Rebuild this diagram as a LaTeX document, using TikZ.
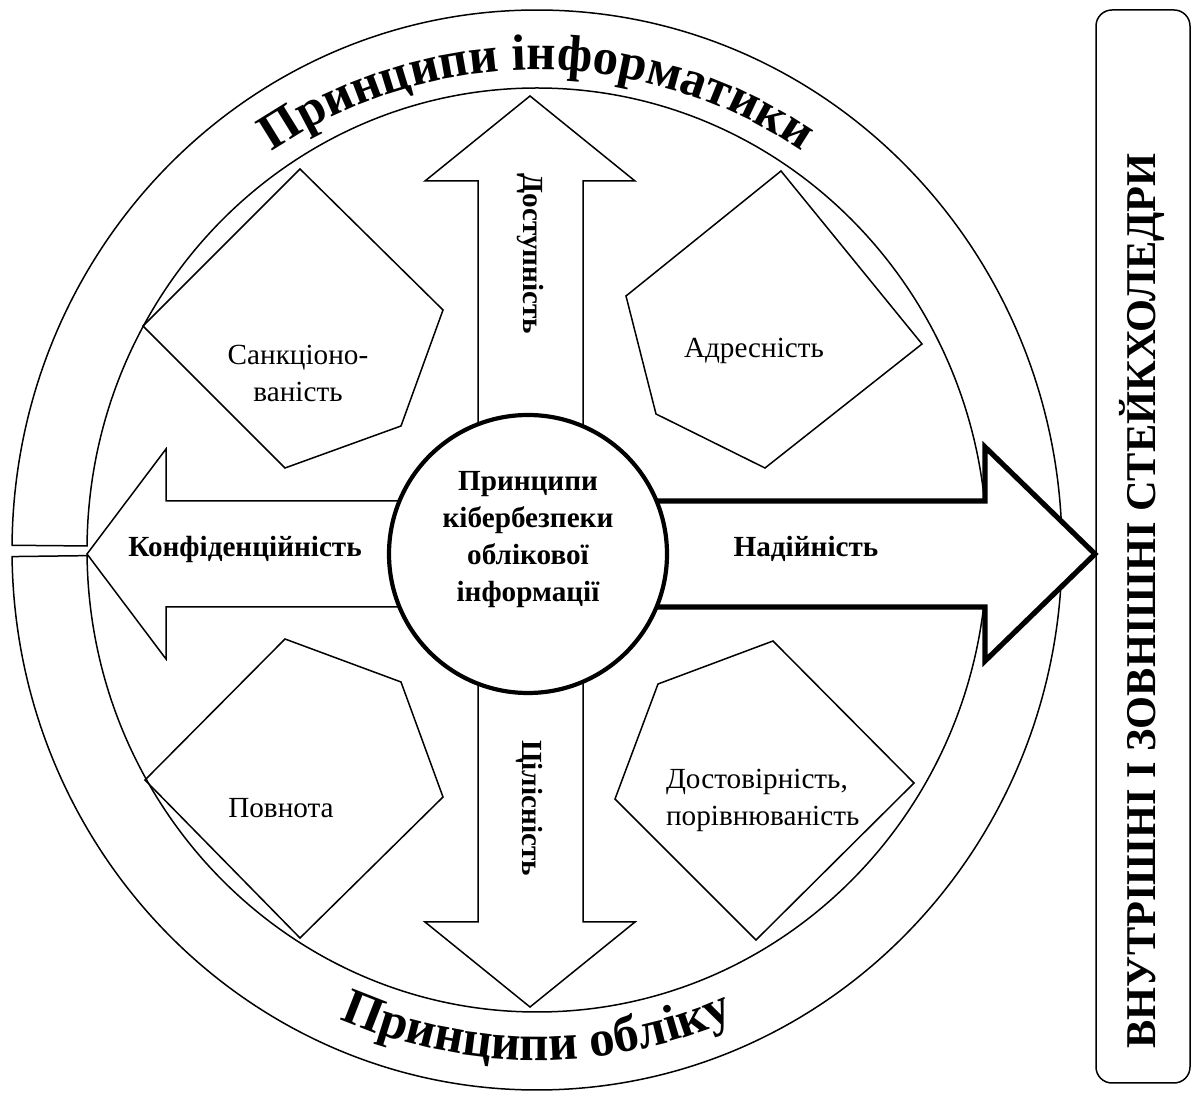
\documentclass[tikz,border=0pt]{standalone}
\usepackage{fontspec}
\setmainfont{Liberation Serif}
\usetikzlibrary{decorations.text}
\newcommand\bandfont{\fontsize{25.5}{30}\selectfont\bfseries}

\begin{document}
\begin{tikzpicture}[x=0.5pt, y=0.5pt,
    thin line/.style={draw, line width=0.75pt},
    band/.style={thin line, fill=white},
    pent/.style={thin line},
    flat arrow/.style={thin line, fill=white},
    label text/.style={font=\fontsize{14.6}{18.5}\selectfont, align=center},
    bold text/.style={font=\fontsize{14.6}{18.5}\selectfont\bfseries, align=center}]
    \useasboundingbox (0,0) rectangle (1195,1093);
    \coordinate (C) at (537,543);

    % Outer bands
    \draw[band] (C) ++(179.5:525 and 540) arc[start angle=179.5, end angle=0, x radius=525, y radius=540]
        -- ++(-75,0) arc[start angle=0, end angle=179.5, x radius=450, y radius=462] -- cycle;
    \draw[band] (C) ++(180.7:525 and 540) arc[start angle=180.7, end angle=360, x radius=525, y radius=540]
        -- ++(-75,0) arc[start angle=360, end angle=180.7, x radius=450, y radius=462] -- cycle;
    \path[decorate, decoration={text along path, text align=center, text={|\bandfont|Принципи інформатики}}]
        (C) ++(160:475 and 480) arc[start angle=160, end angle=20, x radius=475, y radius=480];
    \path[decorate, decoration={text along path, text align=center, text={|\bandfont|Принципи обліку}}]
        (C) ++(200:500 and 510) arc[start angle=200, end angle=340, x radius=500, y radius=510];

    % Pentagons
    \draw[pent] (300,924) -- (443,783) -- (401,667) -- (285,625) -- (143,767) -- cycle;
    \draw[pent] (781,922) -- (922,749) -- (765,625) -- (656,679) -- (626,797) -- cycle;
    \draw[pent] (285,454) -- (401,411) -- (443,296) -- (300,155) -- (145,313) -- cycle;
    \draw[pent] (773,452) -- (914,310) -- (756,153) -- (615,294) -- (658,409) -- cycle;
    \node[label text] (sank) at (298,720) {Санкціоно-\\ваність};
    \node[label text] (adr) at (754,742) {Адресність};
    \node[label text] (povn) at (281,285) {Повнота};
    \node[label text, align=left, anchor=west] (dostov) at (659,293) {Достовірність,\\порівнюваність};

    % Arrows
    \draw[flat arrow] (530,592) -- (166,592) -- (166,644) -- (87,539) -- (166,434) -- (166,486) -- (530,486) -- cycle;
    \draw[flat arrow] (478,539) -- (478,912) -- (425,912) -- (530,997) -- (635,912) -- (583,912) -- (583,539) -- cycle;
    \draw[flat arrow] (478,539) -- (478,171) -- (425,171) -- (530,86) -- (635,171) -- (583,171) -- (583,539) -- cycle;
    \draw[flat arrow, line width=2.6pt] (530,592) -- (985,592) -- (985,646) -- (1095,539) -- (985,432) -- (985,486) -- (530,486) -- cycle;
    \node[bold text] (konf) at (245,544) {Конфіденційність};
    \node[bold text] (nad) at (806,544) {Надійність};
    \node[bold text, rotate=-90] (dostup) at (530,839) {Доступність};
    \node[bold text, rotate=-90] (cilis) at (530,285) {Цілісність};

    % Central circle
    \node[circle, draw, line width=2.1pt, fill=white, minimum size=139pt, inner sep=0pt] (core) at (528,539) {};
    \node[bold text] (coretext) at (528,553) {Принципи\\кібербезпеки\\облікової\\інформації};

    % Stakeholders
    \draw[thin line, rounded corners=8pt] (1096,10) rectangle (1190,1083);
    \node[font=\fontsize{21.2}{24}\selectfont\bfseries, rotate=90] (stake) at (1142,492) {ВНУТРІШНІ І ЗОВНІШНІ СТЕЙКХОЛЕДРИ};
\end{tikzpicture}
\end{document}
